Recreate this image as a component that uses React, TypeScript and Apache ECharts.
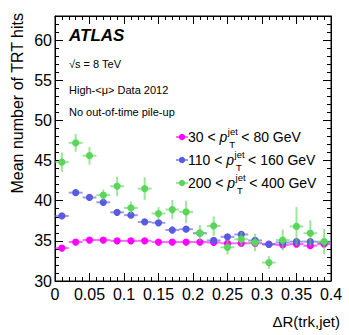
import React, { useEffect, useRef } from 'react';
import * as echarts from 'echarts';

// ---- data ----
const binCenters = [0.01, 0.03, 0.05, 0.07, 0.09, 0.11, 0.13, 0.15, 0.17, 0.19, 0.21, 0.23, 0.25, 0.27, 0.29, 0.31, 0.33, 0.35, 0.37, 0.39];
const binHalfWidth = 0.01;

const lowPt = [34.1, 34.85, 35.1, 35.1, 35.0, 35.0, 35.0, 34.85, 34.85, 34.85, 34.85, 34.8, 34.7, 34.7, 34.7, 34.6, 34.5, 34.6, 34.4, 34.6];
const lowPtErr = [0.06, 0.06, 0.06, 0.06, 0.06, 0.06, 0.06, 0.06, 0.06, 0.06, 0.07, 0.07, 0.07, 0.07, 0.08, 0.08, 0.08, 0.09, 0.09, 0.1];

const midPt = [38.1, 41.0, 40.4, 39.8, 38.55, 38.2, 37.35, 37.25, 36.35, 36.45, 35.95, 35.05, 35.5, 35.8, 35.05, 34.55, 34.8, 34.9, 34.9, 34.8];
const midPtErr = [0.15, 0.15, 0.15, 0.15, 0.15, 0.15, 0.15, 0.15, 0.2, 0.2, 0.2, 0.2, 0.2, 0.2, 0.25, 0.25, 0.25, 0.25, 0.3, 0.3];

const highPt = [44.8, 47.2, 45.6, 40.7, 41.8, 39.1, 41.5, 38.4, 38.9, 38.6, 35.95, 36.85, 34.2, 35.2, 34.8, 32.3, 35.1, 36.8, 35.95, 34.9];
const highPtErr = [1.2, 1.1, 1.1, 0.7, 1.2, 0.8, 1.4, 0.8, 1.2, 1.4, 1.0, 1.2, 0.9, 0.9, 1.1, 0.8, 1.3, 2.4, 1.6, 1.6];

const legendLow = ['30', '110', '200'];
const legendHigh = ['80', '160', '400'];
const seriesColors = ['#ff00ff', '#5a5ae0', '#5ad65a'];

const infoLines = ['High-<\u03bc> Data 2012', 'No out-of-time pile-up'];

const FONT = '"Liberation Sans", Arial, Helvetica, sans-serif';

function measure(text: string, font: string): number {
  const c = document.createElement('canvas').getContext('2d');
  if (!c) return text.length * 7;
  c.font = font;
  return c.measureText(text).width;
}

function makeSeries(vals: number[], errs: number[], color: string) {
  return {
    type: 'custom',
    xAxisIndex: 0,
    yAxisIndex: 0,
    data: binCenters.map((x, i) => [x, vals[i], errs[i]]),
    renderItem: (params: any, api: any) => {
      const x = api.value(0);
      const y = api.value(1);
      const e = api.value(2);
      const pL = api.coord([x - binHalfWidth, y]);
      const pR = api.coord([x + binHalfWidth, y]);
      const pT = api.coord([x, y + e]);
      const pB = api.coord([x, y - e]);
      const c = api.coord([x, y]);
      return {
        type: 'group',
        children: [
          { type: 'line', shape: { x1: pL[0], y1: pL[1], x2: pR[0], y2: pR[1] }, style: { stroke: color, lineWidth: 2, opacity: 0.6 } },
          { type: 'line', shape: { x1: pT[0], y1: pT[1], x2: pB[0], y2: pB[1] }, style: { stroke: color, lineWidth: 2, opacity: 0.6 } },
          { type: 'circle', shape: { cx: c[0], cy: c[1], r: 3.6 }, style: { fill: color } },
        ],
      };
    },
  };
}

function txt(text: string, x: number, y: number, font: string, align = 'left', extra: any = {}) {
  return {
    type: 'text',
    x,
    y,
    ...extra,
    style: {
      text,
      font,
      fill: '#000',
      align,
      textAlign: align,
      verticalAlign: 'middle',
      textVerticalAlign: 'middle',
    },
  };
}

export default function App() {
  const ref = useRef<HTMLDivElement>(null);

  useEffect(() => {
    if (!ref.current) return;
    const chart = echarts.init(ref.current, null, { renderer: 'svg' });

    const black = { color: '#000', width: 1 };
    const mainF = `14px ${FONT}`;
    const supF = `9.5px ${FONT}`;
    const italF = `italic 14px ${FONT}`;

    const legendEls: any[] = [];
    legendLow.forEach((lo, i) => {
      const y = 137 + 23 * i;
      const color = seriesColors[i];
      legendEls.push({ type: 'line', shape: { x1: 176, y1: y, x2: 188, y2: y }, style: { stroke: color, lineWidth: 1.5, opacity: 0.8 } });
      legendEls.push({ type: 'circle', shape: { cx: 182, cy: y, r: 3.2 }, style: { fill: color } });
      const x0 = 188;
      const p1 = `${lo} < `;
      const w1 = measure(p1, mainF);
      legendEls.push(txt(p1, x0, y, mainF));
      const xp = x0 + w1;
      legendEls.push(txt('p', xp, y, italF));
      const xs = xp + measure('p', italF) + 0.5;
      legendEls.push(txt('jet', xs, y - 5.5, supF));
      legendEls.push(txt('T', xs + 1.5, y + 7, supF));
      const xr = xs + measure('jet', supF) + 3.5;
      legendEls.push(txt(`< ${legendHigh[i]} GeV`, xr, y, mainF));
    });

    const majorX = { show: true, inside: true, length: 8, lineStyle: black };
    const minorX = { show: true, inside: true, length: 4, lineStyle: black };

    const option: any = {
      animation: false,
      backgroundColor: '#fff',
      grid: { left: 55, top: 16, right: 18, bottom: 54, show: true, borderColor: '#000', borderWidth: 1, backgroundColor: 'transparent' },
      xAxis: [
        {
          type: 'value', min: 0, max: 0.4, interval: 0.05, position: 'bottom',
          axisLine: { show: true, onZero: false, lineStyle: black },
          axisTick: majorX,
          splitLine: { show: false },
          axisLabel: { color: '#000', fontSize: 16, fontFamily: FONT, margin: 5, formatter: (v: number) => String(+v.toFixed(2)) },
        },
        {
          type: 'value', min: 0, max: 0.4, interval: 0.01, position: 'bottom',
          axisLine: { show: false, onZero: false }, axisTick: minorX, splitLine: { show: false }, axisLabel: { show: false },
        },
        {
          type: 'value', min: 0, max: 0.4, interval: 0.05, position: 'top',
          axisLine: { show: true, onZero: false, lineStyle: black }, axisTick: majorX, splitLine: { show: false }, axisLabel: { show: false },
        },
        {
          type: 'value', min: 0, max: 0.4, interval: 0.01, position: 'top',
          axisLine: { show: false, onZero: false }, axisTick: minorX, splitLine: { show: false }, axisLabel: { show: false },
        },
      ],
      yAxis: [
        {
          type: 'value', min: 30, max: 63, interval: 5, position: 'left',
          axisLine: { show: true, onZero: false, lineStyle: black },
          axisTick: majorX,
          splitLine: { show: false },
          axisLabel: { color: '#000', fontSize: 16, fontFamily: FONT, margin: 3, formatter: (v: number) => (v % 5 === 0 ? String(v) : '') },
        },
        {
          type: 'value', min: 30, max: 63, interval: 1, position: 'left',
          axisLine: { show: false, onZero: false }, axisTick: minorX, splitLine: { show: false }, axisLabel: { show: false },
        },
        {
          type: 'value', min: 30, max: 63, interval: 5, position: 'right',
          axisLine: { show: true, onZero: false, lineStyle: black }, axisTick: majorX, splitLine: { show: false }, axisLabel: { show: false },
        },
        {
          type: 'value', min: 30, max: 63, interval: 1, position: 'right',
          axisLine: { show: false, onZero: false }, axisTick: minorX, splitLine: { show: false }, axisLabel: { show: false },
        },
      ],
      series: [
        makeSeries(lowPt, lowPtErr, seriesColors[0]),
        makeSeries(midPt, midPtErr, seriesColors[1]),
        makeSeries(highPt, highPtErr, seriesColors[2]),
      ],
      graphic: [
        txt('ATLAS', 69, 35, `italic bold 17px ${FONT}`),
        txt('\u221As = 8 TeV', 69, 63.5, `11px ${FONT}`),
        txt(infoLines[0], 69, 89.5, `11px ${FONT}`),
        txt(infoLines[1], 69, 112, `11px ${FONT}`),
        txt('Mean number of TRT hits', 17, 13, `16px ${FONT}`, 'right', { rotation: Math.PI / 2 }),
        txt('\u0394R(trk,jet)', 340, 321, `15px ${FONT}`, 'right'),
        ...legendEls,
      ],
    };

    chart.setOption(option);
    return () => chart.dispose();
  }, []);

  return <div ref={ref} style={{ position: 'fixed', left: 0, top: 0, width: 349, height: 335, background: '#fff' }} />;
}
